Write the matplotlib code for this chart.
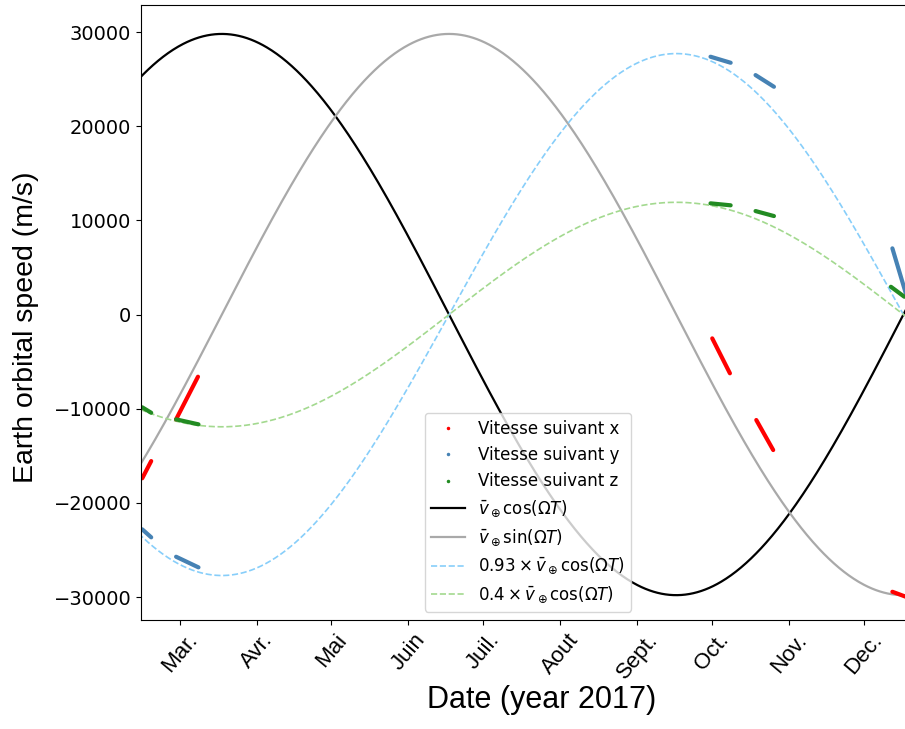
import numpy as np
import matplotlib

matplotlib.use("Agg")
import matplotlib.pyplot as plt
from matplotlib.lines import Line2D


# day of year (Jan 1 = 0) and month labels
month_days = [59, 90, 120, 151, 181, 212, 243, 273, 304, 334]
month_labels = ["Mar.", "Avr.", "Mai", "Juin", "Juil.", "Aout", "Sept.", "Oct.", "Nov.", "Dec."]

# model curves: v_bar * cos(Omega * (t - t_peak)), parameters
v_bar = 29800.0
period = 365.25
peak_cos = 76.0
peak_sin = peak_cos + period / 4
scale_blue = -0.93
scale_green = -0.4

# measured clusters (start/end of each run), NaN separates runs
vx_days = [44.0, 47.6, np.nan, 57.6, 66.4, np.nan, 273.1, 280.2, np.nan, 290.8, 297.6, np.nan, 345.5, 350.9]
vx_vals = [-17390, -15560, np.nan, -11130, -6600, np.nan, -2530, -6240, np.nan, -11200, -14390, np.nan, -29440, -29970]

vy_days = [44.0, 47.6, np.nan, 57.6, 66.6, np.nan, 272.4, 280.5, np.nan, 290.5, 297.9, np.nan, 345.5, 350.9]
vy_vals = [-22810, -23660, np.nan, -25720, -26850, np.nan, 27380, 26740, np.nan, 25430, 24190, np.nan, 7030, 2250]

vz_days = [44.0, 47.6, np.nan, 57.6, 66.6, np.nan, 272.4, 280.5, np.nan, 290.5, 297.9, np.nan, 344.9, 350.3]
vz_vals = [-9850, -10430, np.nan, -11130, -11660, np.nan, 11810, 11600, np.nan, 10990, 10460, np.nan, 2950, 1890]

label_font = ["Liberation Sans Narrow", "Liberation Sans"]

fig = plt.figure(figsize=(9.05, 7.29), dpi=100)
ax = fig.add_axes([0.1558, 0.1495, 0.855, 0.8436])

t = np.linspace(40, 360, 800)
w = 2 * np.pi / period
ax.plot(t, v_bar * np.cos(w * (t - peak_cos)), color="black", lw=1.6)
ax.plot(t, v_bar * np.cos(w * (t - peak_sin)), color="darkgray", lw=1.6)
ax.plot(t, scale_blue * v_bar * np.cos(w * (t - peak_cos)), color="lightskyblue", lw=1.2, ls="--")
ax.plot(t, scale_green * v_bar * np.cos(w * (t - peak_cos)), color="#a3d98f", lw=1.2, ls="--")

ax.plot(vx_days, vx_vals, color="red", lw=3.0, solid_capstyle="round")
ax.plot(vy_days, vy_vals, color="steelblue", lw=3.0, solid_capstyle="round")
ax.plot(vz_days, vz_vals, color="forestgreen", lw=3.0, solid_capstyle="round")

ax.set_xlim(43.5, 354.5)
ax.set_ylim(-32440, 32870)
ax.set_yticks([-30000, -20000, -10000, 0, 10000, 20000, 30000])
ax.tick_params(axis="y", labelsize=14)
ax.set_xticks(month_days)
ax.set_xticklabels(month_labels, rotation=50, fontsize=16, family=label_font)

ax.set_xlabel("Date (year 2017)", fontsize=22, family=label_font)
ax.set_ylabel("Earth orbital speed (m/s)", fontsize=20.5, family=label_font)
ax.xaxis.set_label_coords(0.518, -0.105)
ax.yaxis.set_label_coords(-0.132, 0.476)

handles = [
    Line2D([], [], color="red", marker=".", ls="", markersize=3),
    Line2D([], [], color="steelblue", marker=".", ls="", markersize=3),
    Line2D([], [], color="forestgreen", marker=".", ls="", markersize=3),
    Line2D([], [], color="black", lw=1.6),
    Line2D([], [], color="darkgray", lw=1.6),
    Line2D([], [], color="lightskyblue", lw=1.2, ls="--"),
    Line2D([], [], color="#a3d98f", lw=1.2, ls="--"),
]
labels = [
    "Vitesse suivant x",
    "Vitesse suivant y",
    "Vitesse suivant z",
    r"$\bar{v}_\oplus\cos(\Omega T)$",
    r"$\bar{v}_\oplus\sin(\Omega T)$",
    r"$0.93\times\bar{v}_\oplus\cos(\Omega T)$",
    r"$0.4\times\bar{v}_\oplus\cos(\Omega T)$",
]
ax.legend(handles, labels, loc="lower center", fontsize=12)

fig.savefig("out.png", dpi=100)
